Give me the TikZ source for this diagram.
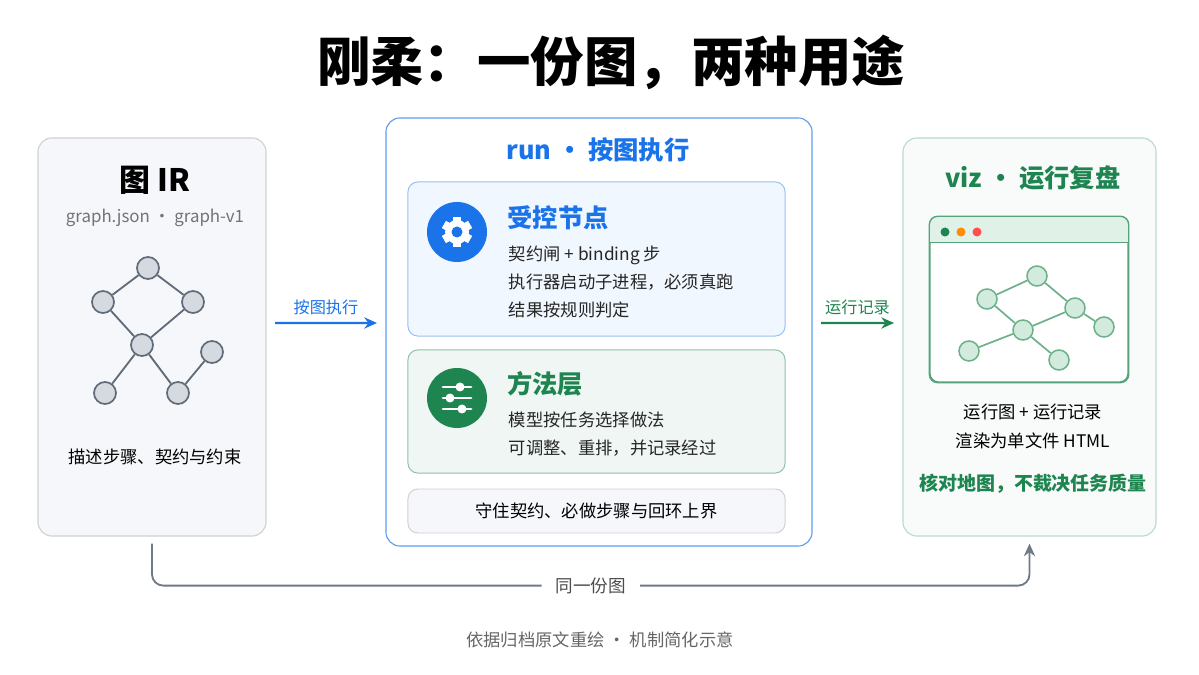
\documentclass[tikz,border=0pt]{standalone}
\usepackage{fontspec}
\setmainfont{Noto Sans CJK SC}
\usetikzlibrary{arrows.meta, positioning, calc}
\definecolor{runblue}{HTML}{1A73E8}
\definecolor{vizgreen}{HTML}{1E8550}
\definecolor{edgegray}{HTML}{5F6B78}
\definecolor{nodegray}{HTML}{D5DAE0}
\definecolor{leafgreen}{HTML}{D3EBDD}
\definecolor{leafedge}{HTML}{6DB08A}
\definecolor{panelgray}{HTML}{F5F7FA}
\tikzset{
  panel/.style = {rectangle, rounded corners=10pt, line width=0.8pt},
  card/.style = {rectangle, rounded corners=7pt, line width=0.7pt, minimum width=9.425cm},
  body/.style = {font=\fontsize{12.3}{15}\selectfont, text=black!85, anchor=west},
  gnode/.style = {circle, draw=edgegray, fill=nodegray, line width=1.2pt, minimum size=0.55cm, inner sep=0pt},
  vnode/.style = {circle, draw=leafedge, fill=leafgreen, line width=1.1pt, minimum size=0.5cm, inner sep=0pt},
  flow/.style = {-{Stealth[length=9pt,width=8pt]}, line width=1.6pt},
}
\begin{document}
\begin{tikzpicture}[x=0.025cm, y=-0.025cm]
\useasboundingbox[fill=white] (0,0) rectangle (1199,675);

\node (title) at (611,62) {\fontsize{38}{44}\selectfont\bfseries 刚柔：一份图，两种用途};

% left panel: graph IR
\node (lp) [panel, draw=black!18, fill=panelgray, minimum width=5.7cm, minimum height=9.95cm] at (152,337) {};
\node (irtitle) at (155,180) {\fontsize{22}{25}\selectfont\bfseries 图 IR};
\node (irsub) at (155,218) [text=black!55] {\fontsize{12}{14}\selectfont graph.json · graph-v1};
\node (g1) [gnode] at (148,268) {};
\node (g2) [gnode] at (103,302) {};
\node (g3) [gnode] at (193,302) {};
\node (g4) [gnode] at (142,345) {};
\node (g5) [gnode] at (212,352) {};
\node (g6) [gnode] at (105,393) {};
\node (g7) [gnode] at (178,393) {};
\foreach \a/\b in {g1/g2, g1/g3, g2/g4, g3/g4, g4/g6, g4/g7, g7/g5}
  \draw[edgegray, line width=1.3pt] (\a) -- (\b);
\node (irnote) at (155,457) {\fontsize{12.3}{15}\selectfont 描述步骤、契约与约束};

% middle panel: run
\node (mp) [panel, draw=runblue!70, fill=white, minimum width=10.65cm, minimum height=10.7cm] at (599,332) {};
\node (runtitle) at (598,150) [text=runblue] {\fontsize{18}{21}\selectfont\bfseries run · 按图执行};

\node (ctrl) [card, draw=runblue!45, fill=runblue!6, minimum height=3.85cm] at (596.5,259) {};
\node (gear) [circle, fill=runblue, minimum size=1.5cm] at (457,232) {};
\foreach \t in {0,60,...,300}
  \fill[white, rotate around={\t:(gear.center)}] ($(gear.center)+(-4,-15)$) rectangle ($(gear.center)+(4,15)$);
\fill[white] (gear.center) circle (12);
\fill[runblue] (gear.center) circle (5.5);
\node (ctrltitle) at (558,218) [text=runblue] {\fontsize{18}{21}\selectfont\bfseries 受控节点};
\node (c1) [body] at (504,255) {契约闸 + binding 步};
\node (c2) [body] at (504,282) {执行器启动子进程，必须真跑};
\node (c3) [body] at (504,310) {结果按规则判定};

\node (meth) [card, draw=vizgreen!50, fill=vizgreen!7, minimum height=3.075cm] at (596.5,411.5) {};
\node (slider) [circle, fill=vizgreen, minimum size=1.5cm] at (457,398) {};
\foreach \dy/\dx in {-11/3, 0/-7, 11/5} {
  \draw[white, line width=2pt, line cap=round] ($(slider.center)+(-14,\dy)$) -- ($(slider.center)+(14,\dy)$);
  \fill[white] ($(slider.center)+(\dx,\dy)$) circle (4.5);
}
\node (methtitle) at (545,384) [text=vizgreen] {\fontsize{18}{21}\selectfont\bfseries 方法层};
\node (m1) [body] at (504,420) {模型按任务选择做法};
\node (m2) [body] at (504,448) {可调整、重排，并记录经过};

\node (guard) [card, draw=black!18, fill=panelgray, minimum height=1.1cm] at (596.5,511) {\fontsize{12.3}{15}\selectfont 守住契约、必做步骤与回环上界};

% right panel: viz
\node (rp) [panel, draw=vizgreen!30, fill=vizgreen!3, minimum width=6.325cm, minimum height=9.95cm] at (1029.5,337) {};
\node (viztitle) at (1033,178) [text=vizgreen] {\fontsize{18}{21}\selectfont\bfseries viz · 运行复盘};
\node (win) [rectangle, rounded corners=6pt, draw=vizgreen!75, fill=white, line width=1pt, minimum width=4.95cm, minimum height=4.125cm] at (1029,299.5) {};
\begin{scope}
  \clip[rounded corners=6pt] (win.north west) rectangle (win.south east);
  \fill[leafgreen!70] (win.north west) rectangle ($(win.north east)+(0,26)$);
\end{scope}
\draw[vizgreen!75, line width=1pt] ($(win.north west)+(0,26)$) -- ($(win.north east)+(0,26)$);
\draw[vizgreen!75, line width=1pt, rounded corners=6pt] (win.north west) rectangle (win.south east);
\fill[vizgreen] (945,232) circle (4.5);
\fill[orange!90!yellow] (961,232) circle (4.5);
\fill[red!70] (977,232) circle (4.5);
\node (v1) [vnode] at (1037,276) {};
\node (v2) [vnode] at (987,299) {};
\node (v3) [vnode] at (1075,308) {};
\node (v4) [vnode] at (1104,327) {};
\node (v5) [vnode] at (1023,330) {};
\node (v6) [vnode] at (969,351) {};
\node (v7) [vnode] at (1059,360) {};
\foreach \a/\b in {v2/v1, v1/v3, v3/v4, v2/v5, v5/v3, v5/v6, v5/v7}
  \draw[leafedge, line width=1.2pt] (\a) -- (\b);
\node (vizl1) at (1033,412) {\fontsize{12.3}{15}\selectfont 运行图 + 运行记录};
\node (vizl2) at (1033,441) {\fontsize{12.3}{15}\selectfont 渲染为单文件 HTML};
\node (vizl3) at (1033,484) [text=vizgreen] {\fontsize{13.5}{16}\selectfont\bfseries 核对地图，不裁决任务质量};

% connectors
\draw[flow, runblue] ([yshift=0.35cm,xshift=6]lp.east) -- node[above=2pt, text=runblue] {\fontsize{11.5}{13}\selectfont 按图执行} ([yshift=0.225cm,xshift=-6]mp.west);
\draw[flow, vizgreen] ([yshift=0.225cm,xshift=6]mp.east) -- node[above=2pt, text=vizgreen] {\fontsize{11.5}{13}\selectfont 运行记录} ([yshift=0.35cm,xshift=-6]rp.west);
\draw[-{Stealth[length=9pt,width=8pt]}, edgegray!90, line width=1.3pt, rounded corners=8pt]
  ([yshift=-0.175cm]lp.south) -- ++(0,42) -| node[pos=0.25, fill=white, inner xsep=10pt, text=black!70] {\fontsize{12.5}{15}\selectfont 同一份图} ([yshift=-0.175cm]rp.south);

\node (foot) at (600,640) [text=black!60] {\fontsize{12.3}{15}\selectfont 依据归档原文重绘 · 机制简化示意};
\end{tikzpicture}
\end{document}
